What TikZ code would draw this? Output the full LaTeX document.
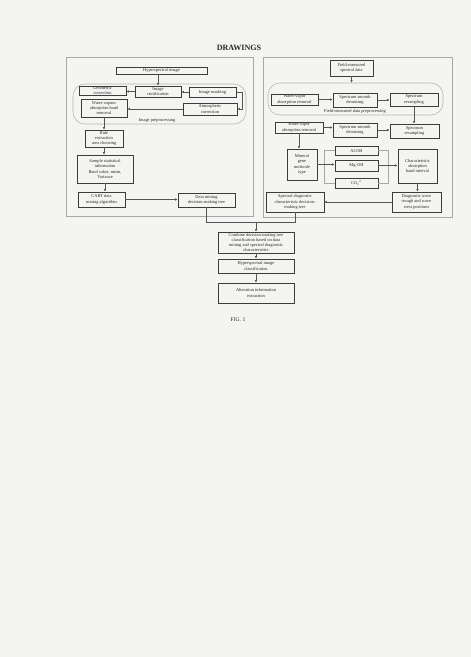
\documentclass[tikz,border=0pt]{standalone}
\usepackage{fontspec}
\setmainfont{Liberation Serif}
\usetikzlibrary{arrows.meta}
\definecolor{paper}{HTML}{F4F4F2}
\definecolor{boxline}{HTML}{3C3C3C}
\definecolor{frameline}{HTML}{A8A8A8}
\definecolor{regline}{HTML}{B4B4B4}
\definecolor{conn}{HTML}{555555}
\definecolor{txt}{HTML}{2A2A2A}
\tikzset{
  x=0.05cm, y=-0.05cm,
  box/.style={draw=boxline, line width=0.9pt, fill=paper, align=center, inner sep=0pt,
    text=txt, font=\fontsize{6.3}{7.3}\selectfont},
  bx/.style 2 args={minimum width=#1*0.05cm, minimum height=#2*0.05cm},
  region/.style={draw=regline, line width=0.8pt, rounded corners=0.6cm, inner sep=0pt},
  frame/.style={draw=frameline, line width=0.7pt},
  lbl/.style={text=txt, font=\fontsize{6.3}{7.3}\selectfont, inner sep=0pt},
  arr/.style={draw=conn, line width=0.6pt, -{Latex[length=3.6pt,width=3.4pt]}},
  ln/.style={draw=conn, line width=0.6pt},
  brk/.style={draw=frameline, line width=0.6pt},
}
\begin{document}
\begin{tikzpicture}
\fill[paper] (0,0) rectangle (471,657);
\useasboundingbox (0,0) rectangle (471,657);

\node[font=\bfseries\fontsize{11.5}{13}\selectfont, text=txt] (title) at (239,48) {DRAWINGS};

% frames
\draw[frame] (66,57) rectangle (253,216);
\draw[frame] (263,57) rectangle (452,217);

% ---------------- left side
\node[region, minimum width=173*0.05cm, minimum height=40*0.05cm] (ipr) at (159.5,104) {};
\node[lbl] (iprl) at (157,120.5) {Image preprocessing};
\node[box, bx={91}{7}] (hsi) at (161.5,70.5) {Hyperspectral image};
\node[box, bx={47}{9}] (geo) at (102.5,90.5) {Geometric\\correction};
\node[box, bx={46}{11}] (rect) at (158,91.5) {Image\\rectification};
\node[box, bx={47}{10}] (mask) at (212.5,92) {Image masking};
\node[box, bx={46}{18}] (wv) at (104,108) {Water-vapour\\absorption band\\removal};
\node[box, bx={54}{12}] (atm) at (210,109) {Atmospheric\\correction};
\node[box, bx={38}{17}] (rule) at (104,138.5) {Rule\\extraction\\area choosing};
\node[box, bx={56}{28}] (samp) at (105,169) {Sample statistical\\information\\Band value, mean,\\Variance};
\node[box, bx={47}{15}] (cart) at (101.5,199.5) {CART data\\mining algorithm};
\node[box, bx={57}{14}] (dm) at (206.5,200) {Data mining\\decision-making tree};

\draw[arr] (rect.north |- hsi.south) -- (rect.north);
\draw[arr] (mask.west) -- (mask.west -| rect.east);
\draw[arr] (rect.west) -- (rect.west -| geo.east);
\draw[arr] (mask.east) -- ++(6,0) |- (atm.east);
\draw[arr] (atm.west) -- (atm.west -| wv.east);
\draw[arr] (wv.south) -- (wv.south |- rule.north);
\draw[arr] (rule.south) -- (rule.south |- samp.north);
\draw[arr] (samp.south) -- (samp.south |- cart.north);
\draw[arr] (cart.east) -- (cart.east -| dm.west);

% ---------------- right side
\node[region, minimum width=175*0.05cm, minimum height=32*0.05cm] (fmp) at (355.5,99) {};
\node[lbl] (fmpl) at (355,111.5) {Field-measured data preprocessing};
\node[box, bx={43}{16}] (field) at (351.5,68) {Field-measured\\spectral data};
\node[box, bx={47}{11}] (w1) at (294.5,99.5) {Water-vapor\\absorption removal};
\node[box, bx={44}{14}] (s1) at (355,100) {Spectrum smooth\\denoising};
\node[box, bx={48}{13}] (r1) at (414,99.5) {Spectrum\\resampling};
\node[box, bx={48}{11}] (w2) at (299,127.5) {Water-vapor\\absorption removal};
\node[box, bx={44}{14}] (s2) at (355,130) {Spectrum smooth\\denoising};
\node[box, bx={49}{14}] (r2) at (414.5,131) {Spectrum\\resampling};
\node[box, bx={30}{31}] (min) at (302,164.5) {Mineral\\gene\\molecule\\type};
\node[box, bx={43}{9}] (al) at (356.5,150.5) {Al-OH};
\node[box, bx={43}{11}] (mg) at (356.5,165.5) {Mg-OH};
\node[box, bx={43}{10}] (co) at (356.5,183) {CO\textsubscript{3}\textsuperscript{2-}};
\node[box, bx={39}{34}] (ch) at (417.5,166) {Characteristic\\absorption\\band interval};
\node[box, bx={49}{20}] (dg) at (416.5,202) {Diagnostic wave\\trough and wave\\crest positions};
\node[box, bx={58}{20}] (st) at (295,202) {Spectral diagnostic\\characteristic decision-\\making tree};

\coordinate (bl) at (324,0);
\coordinate (br) at (388,0);
\draw[brk] (al.west) -- (al.west -| bl) -- (co.west -| bl) -- (co.west);
\draw[brk] (al.east) -- (al.east -| br) -- (co.east -| br) -- (co.east);

\draw[arr] (field.south) -- (field.south |- fmp.north);
\draw[arr] (w1.east) -- (w1.east -| s1.west);
\draw[arr] (s1.east) -- (s1.east -| r1.west);
\draw[arr] (r1.south) -- (r1.south |- r2.north);
\draw[arr] (w2.east) -- (w2.east -| s2.west);
\draw[arr] (s2.east) -- (s2.east -| r2.west);
\draw[arr] (w2.south) -- (w2.south |- min.north);
\draw[arr] (min.east) -- (min.east -| mg.west);
\draw[arr] (mg.east) -- (mg.east -| ch.west);
\draw[arr] (ch.south) -- (ch.south |- dg.north);
\draw[arr] (dg.west) -- (dg.west -| st.east);

% ---------------- bottom
\node[box, bx={76}{21}] (comb) at (256,242.5) {Combine decision-making tree\\classification based on data\\mining and spectral diagnostic\\characteristics};
\node[box, bx={76}{14}] (hic) at (256,266) {Hyperspectral image\\classification};
\node[box, bx={76}{20}] (alt) at (256,293) {Alteration information\\extraction};
\node[text=txt, font=\fontsize{8}{9}\selectfont] (fig) at (238,320) {FIG. 1};

\coordinate (j) at (256,222.5);
\draw[ln] (dm.south) |- (j);
\draw[ln] (st.south) |- (j);
\draw[arr] (j) -- (comb.north);
\draw[arr] (comb.south) -- (hic.north);
\draw[arr] (hic.south) -- (alt.north);
\end{tikzpicture}
\end{document}
